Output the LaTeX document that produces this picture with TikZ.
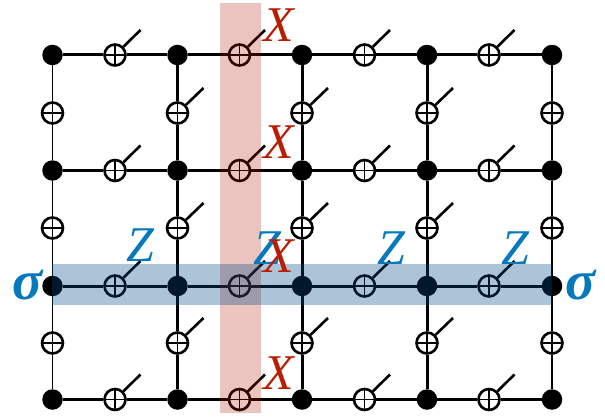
\documentclass[tikz,border=0pt]{standalone}
\usepackage{fontspec}
\setmainfont{Liberation Serif}
\usetikzlibrary{positioning}
\definecolor{rojoX}{RGB}{185,30,5}
\definecolor{azulZ}{RGB}{5,120,190}
\definecolor{bandaX}{RGB}{180,20,0}
\definecolor{bandaZ}{RGB}{0,75,135}

\begin{document}
\begin{tikzpicture}[
            x=1pt, y=-1pt,
            vertice/.style={circle, fill=black, minimum size=20.5pt, inner sep=0pt},
            qubit/.style={circle, draw, line width=2.6pt, fill=white, minimum size=21pt, inner sep=0pt,
                path picture={\draw[line width=1.9pt] (path picture bounding box.north) -- (path picture bounding box.south)
                    (path picture bounding box.west) -- (path picture bounding box.east);}},
            enlace/.style={line width=3pt},
            borde/.style={line width=1.9pt},
            cola/.style={line width=2.6pt},
            etiqX/.style={text=rojoX, inner sep=0pt, font=\fontsize{50}{50}\selectfont\itshape},
            etiqZ/.style={text=azulZ, inner sep=0pt, font=\fontsize{50}{50}\selectfont\itshape},
            etiqS/.style={text=azulZ, inner sep=0pt, font=\fontsize{56}{56}\selectfont\itshape\bfseries},
            banda/.style={inner sep=0pt, fill opacity=0.33}
        ]
\useasboundingbox (0,0) rectangle (605,420);
% vertices
\foreach \c/\x in {0/52.5,1/177.5,2/302,3/427,4/552}
    \foreach \f/\y in {0/55,1/170.5,2/286,3/399.5}
        \node[vertice] (v\c\f) at (\x,\y) {};
% qubits on horizontal links, with their tails
\foreach \c/\x in {0/115,1/239.5,2/364.5,3/489}
    \foreach \f/\y in {0/55,1/170.5,2/286,3/399.5} {
        \node[qubit] (h\c\f) at (\x,\y) {};
        \coordinate (ch\c\f) at (\x+25.5,\y-25);
        \draw[cola] (h\c\f) -- (ch\c\f);
    }
% qubits on vertical links
\foreach \c/\x in {0/52.5,1/177.5,2/302,3/427,4/552}
    \foreach \f/\y in {0/113,1/228,2/343}
        \node[qubit] (u\c\f) at (\x,\y) {};
% tails of the inner columns
\foreach \c/\x in {1/177.5,2/302,3/427}
    \foreach \f/\y in {0/113,1/228,2/343} {
        \coordinate (cu\c\f) at (\x+26,\y-25);
        \draw[cola] (u\c\f) -- (cu\c\f);
    }
% links
\foreach \f in {0,1,2,3}
    \foreach \c/\d in {0/1,1/2,2/3,3/4}
        \draw[enlace] (v\c\f) -- (h\c\f) -- (v\d\f);
\foreach \c in {1,2,3}
    \foreach \f/\g in {0/1,1/2,2/3}
        \draw[enlace] (v\c\f) -- (u\c\f) -- (v\c\g);
\foreach \c in {0,4}
    \foreach \f/\g in {0/1,1/2,2/3}
        \draw[borde] (v\c\f) -- (u\c\f) -- (v\c\g);
% bands
\node[banda, fill=bandaX, fill opacity=0.25, minimum width=41pt, minimum height=410pt] (bandax) at (240.5,208) {};
\node[banda, fill=bandaZ, minimum width=500pt, minimum height=41pt] (bandaz) at (302,284.5) {};
% labels
\node[etiqZ] (z0) at (140,245) {Z};
\node[etiqZ] (z1) at (267.5,248) {Z};
\node[etiqZ] (z2) at (391,248) {Z};
\node[etiqZ] (z3) at (515,248) {Z};
\foreach \f/\y in {0/25.5,1/142.5,2/256,3/373.5}
    \node[etiqX] (x\f) at (279,\y) {X};
\node[etiqS] (s0) at (27.5,285) {σ};
\node[etiqS] (s1) at (581,285) {σ};
\end{tikzpicture}
\end{document}
